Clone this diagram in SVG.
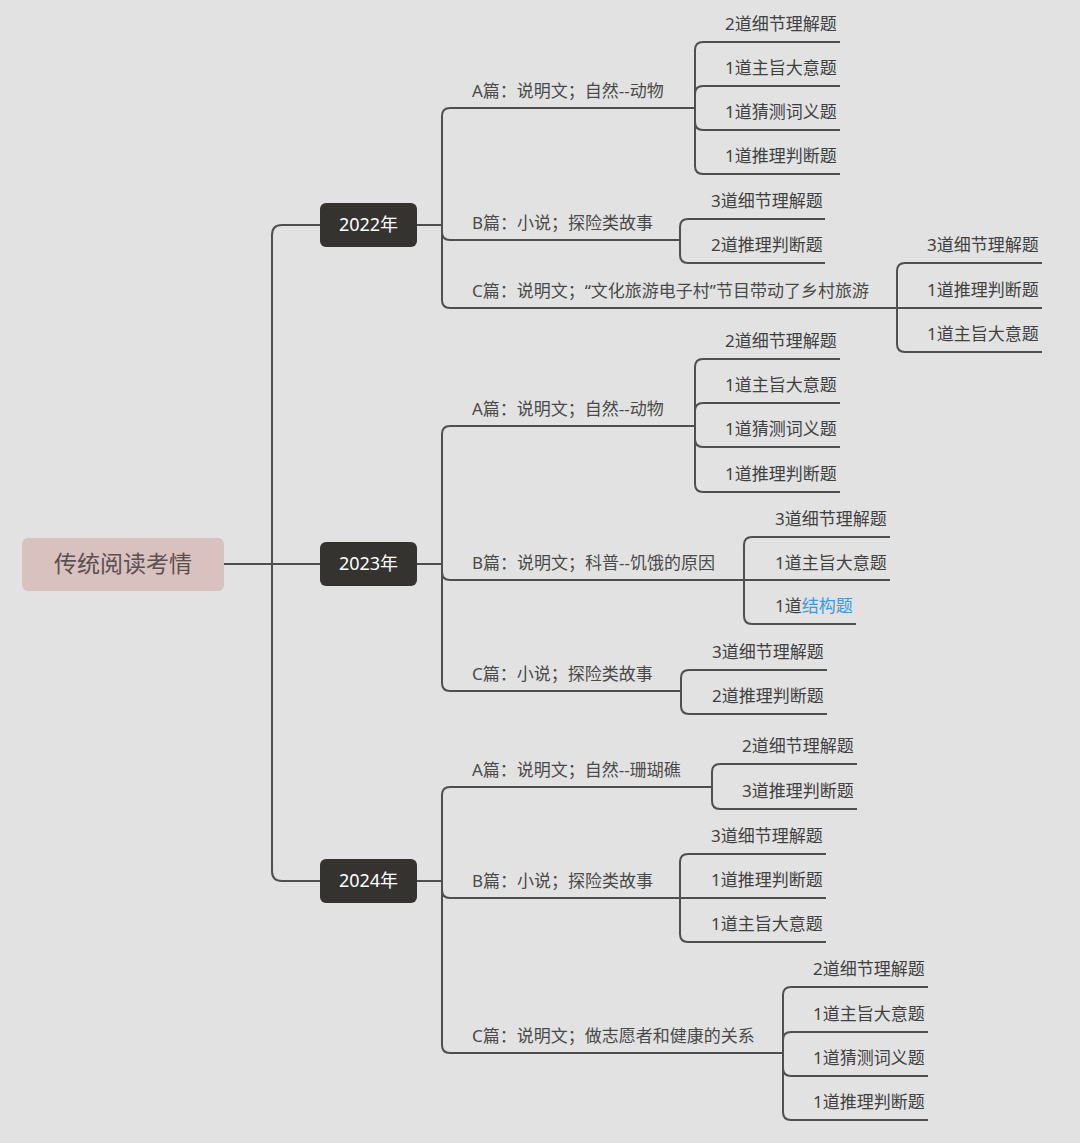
<svg xmlns="http://www.w3.org/2000/svg" width="1080" height="1143" viewBox="0 0 1080 1143">
<style>
.bg{fill:#e2e2e2}
.ln{fill:none;stroke:#4f4f4f;stroke-width:2}
.t{font-family:"Noto Sans","Noto Sans CJK SC",sans-serif}
.root rect{fill:#d9c1c0}
.root text{font-size:23px;fill:#5b5050;text-anchor:middle}
.year rect{fill:#34332f}
.year text{font-size:18px;fill:#ffffff;text-anchor:middle}
.br{font-size:17px;fill:#4a4a4a}
.lf{font-size:17px;fill:#404040}
.blue{fill:#3a98e6}
</style>
<rect class="bg" x="0" y="0" width="1080" height="1143"/>

<g id="connectors" class="ln">
<path d="M224,564 H320"/>
<path d="M272,564 V235 Q272,225 282,225 H320"/>
<path d="M272,564 V871 Q272,881 282,881 H320"/>
<path d="M417,225 H442 V116 Q442,108 450,108 H695"/>
<path d="M417,225 H442 V232 Q442,240 450,240 H680"/>
<path d="M417,225 H442 V300 Q442,308 450,308 H897"/>
<path d="M695,108 V50 Q695,42 703,42 H840"/>
<path d="M695,108 V94 Q695,86 703,86 H840"/>
<path d="M695,108 V122 Q695,130 703,130 H840"/>
<path d="M695,108 V166 Q695,174 703,174 H840"/>
<path d="M680,240 V227 Q680,219 688,219 H825"/>
<path d="M680,240 V255 Q680,263 688,263 H825"/>
<path d="M897,308 V271 Q897,263 905,263 H1042"/>
<path d="M897,308 H1042"/>
<path d="M897,308 V344 Q897,352 905,352 H1042"/>
<path d="M417,564 H442 V434 Q442,426 450,426 H695"/>
<path d="M417,564 H442 V572 Q442,580 450,580 H744"/>
<path d="M417,564 H442 V683 Q442,691 450,691 H681"/>
<path d="M695,426 V367 Q695,359 703,359 H840"/>
<path d="M695,426 V411 Q695,403 703,403 H840"/>
<path d="M695,426 V439 Q695,447 703,447 H840"/>
<path d="M695,426 V484 Q695,492 703,492 H840"/>
<path d="M744,580 V545 Q744,537 752,537 H890"/>
<path d="M744,580 H890"/>
<path d="M744,580 V616 Q744,624 752,624 H856"/>
<path d="M681,691 V678 Q681,670 689,670 H827"/>
<path d="M681,691 V706 Q681,714 689,714 H827"/>
<path d="M417,881 H442 V795 Q442,787 450,787 H712"/>
<path d="M417,881 H442 V890 Q442,898 450,898 H680"/>
<path d="M417,881 H442 V1045 Q442,1053 450,1053 H783"/>
<path d="M712,787 V772 Q712,764 720,764 H857"/>
<path d="M712,787 V801 Q712,809 720,809 H857"/>
<path d="M680,898 V862 Q680,854 688,854 H826"/>
<path d="M680,898 H826"/>
<path d="M680,898 V934 Q680,942 688,942 H826"/>
<path d="M783,1053 V995 Q783,987 791,987 H928"/>
<path d="M783,1053 V1040 Q783,1032 791,1032 H928"/>
<path d="M783,1053 V1068 Q783,1076 791,1076 H928"/>
<path d="M783,1053 V1112 Q783,1120 791,1120 H928"/>
</g>

<g id="root" class="root t">
<rect x="22" y="538" width="202" height="53" rx="6"/>
<text x="123" y="572">传统阅读考情</text>
</g>

<g id="y2022" class="year t"><rect x="320" y="203" width="97" height="44" rx="6"/><text x="368.5" y="231">2022年</text></g>
<g id="y2023" class="year t"><rect x="320" y="542" width="97" height="44" rx="6"/><text x="368.5" y="570">2023年</text></g>
<g id="y2024" class="year t"><rect x="320" y="859" width="97" height="44" rx="6"/><text x="368.5" y="887">2024年</text></g>

<g id="y2022-A" class="t"><text class="br" x="472" y="97">A篇：说明文；自然--动物</text></g>
<g id="y2022-A-leaves" class="t">
<text class="lf" x="725" y="30">2道细节理解题</text>
<text class="lf" x="725" y="74">1道主旨大意题</text>
<text class="lf" x="725" y="118">1道猜测词义题</text>
<text class="lf" x="725" y="162">1道推理判断题</text>
</g>
<g id="y2022-B" class="t"><text class="br" x="472" y="229">B篇：小说；探险类故事</text></g>
<g id="y2022-B-leaves" class="t">
<text class="lf" x="711" y="207">3道细节理解题</text>
<text class="lf" x="711" y="251">2道推理判断题</text>
</g>
<g id="y2022-C" class="t"><text class="br" x="472" y="297">C篇：说明文；“文化旅游电子村”节目带动了乡村旅游</text></g>
<g id="y2022-C-leaves" class="t">
<text class="lf" x="927" y="251">3道细节理解题</text>
<text class="lf" x="927" y="296">1道推理判断题</text>
<text class="lf" x="927" y="340">1道主旨大意题</text>
</g>

<g id="y2023-A" class="t"><text class="br" x="472" y="415">A篇：说明文；自然--动物</text></g>
<g id="y2023-A-leaves" class="t">
<text class="lf" x="725" y="347">2道细节理解题</text>
<text class="lf" x="725" y="391">1道主旨大意题</text>
<text class="lf" x="725" y="435">1道猜测词义题</text>
<text class="lf" x="725" y="480">1道推理判断题</text>
</g>
<g id="y2023-B" class="t"><text class="br" x="472" y="569">B篇：说明文；科普--饥饿的原因</text></g>
<g id="y2023-B-leaves" class="t">
<text class="lf" x="775" y="525">3道细节理解题</text>
<text class="lf" x="775" y="569">1道主旨大意题</text>
<text class="lf" x="775" y="612">1道<tspan class="blue">结构题</tspan></text>
</g>
<g id="y2023-C" class="t"><text class="br" x="472" y="680">C篇：小说；探险类故事</text></g>
<g id="y2023-C-leaves" class="t">
<text class="lf" x="712" y="658">3道细节理解题</text>
<text class="lf" x="712" y="702">2道推理判断题</text>
</g>

<g id="y2024-A" class="t"><text class="br" x="472" y="776">A篇：说明文；自然--珊瑚礁</text></g>
<g id="y2024-A-leaves" class="t">
<text class="lf" x="742" y="752">2道细节理解题</text>
<text class="lf" x="742" y="797">3道推理判断题</text>
</g>
<g id="y2024-B" class="t"><text class="br" x="472" y="887">B篇：小说；探险类故事</text></g>
<g id="y2024-B-leaves" class="t">
<text class="lf" x="711" y="842">3道细节理解题</text>
<text class="lf" x="711" y="886">1道推理判断题</text>
<text class="lf" x="711" y="930">1道主旨大意题</text>
</g>
<g id="y2024-C" class="t"><text class="br" x="472" y="1042">C篇：说明文；做志愿者和健康的关系</text></g>
<g id="y2024-C-leaves" class="t">
<text class="lf" x="813" y="975">2道细节理解题</text>
<text class="lf" x="813" y="1020">1道主旨大意题</text>
<text class="lf" x="813" y="1064">1道猜测词义题</text>
<text class="lf" x="813" y="1108">1道推理判断题</text>
</g>
</svg>
